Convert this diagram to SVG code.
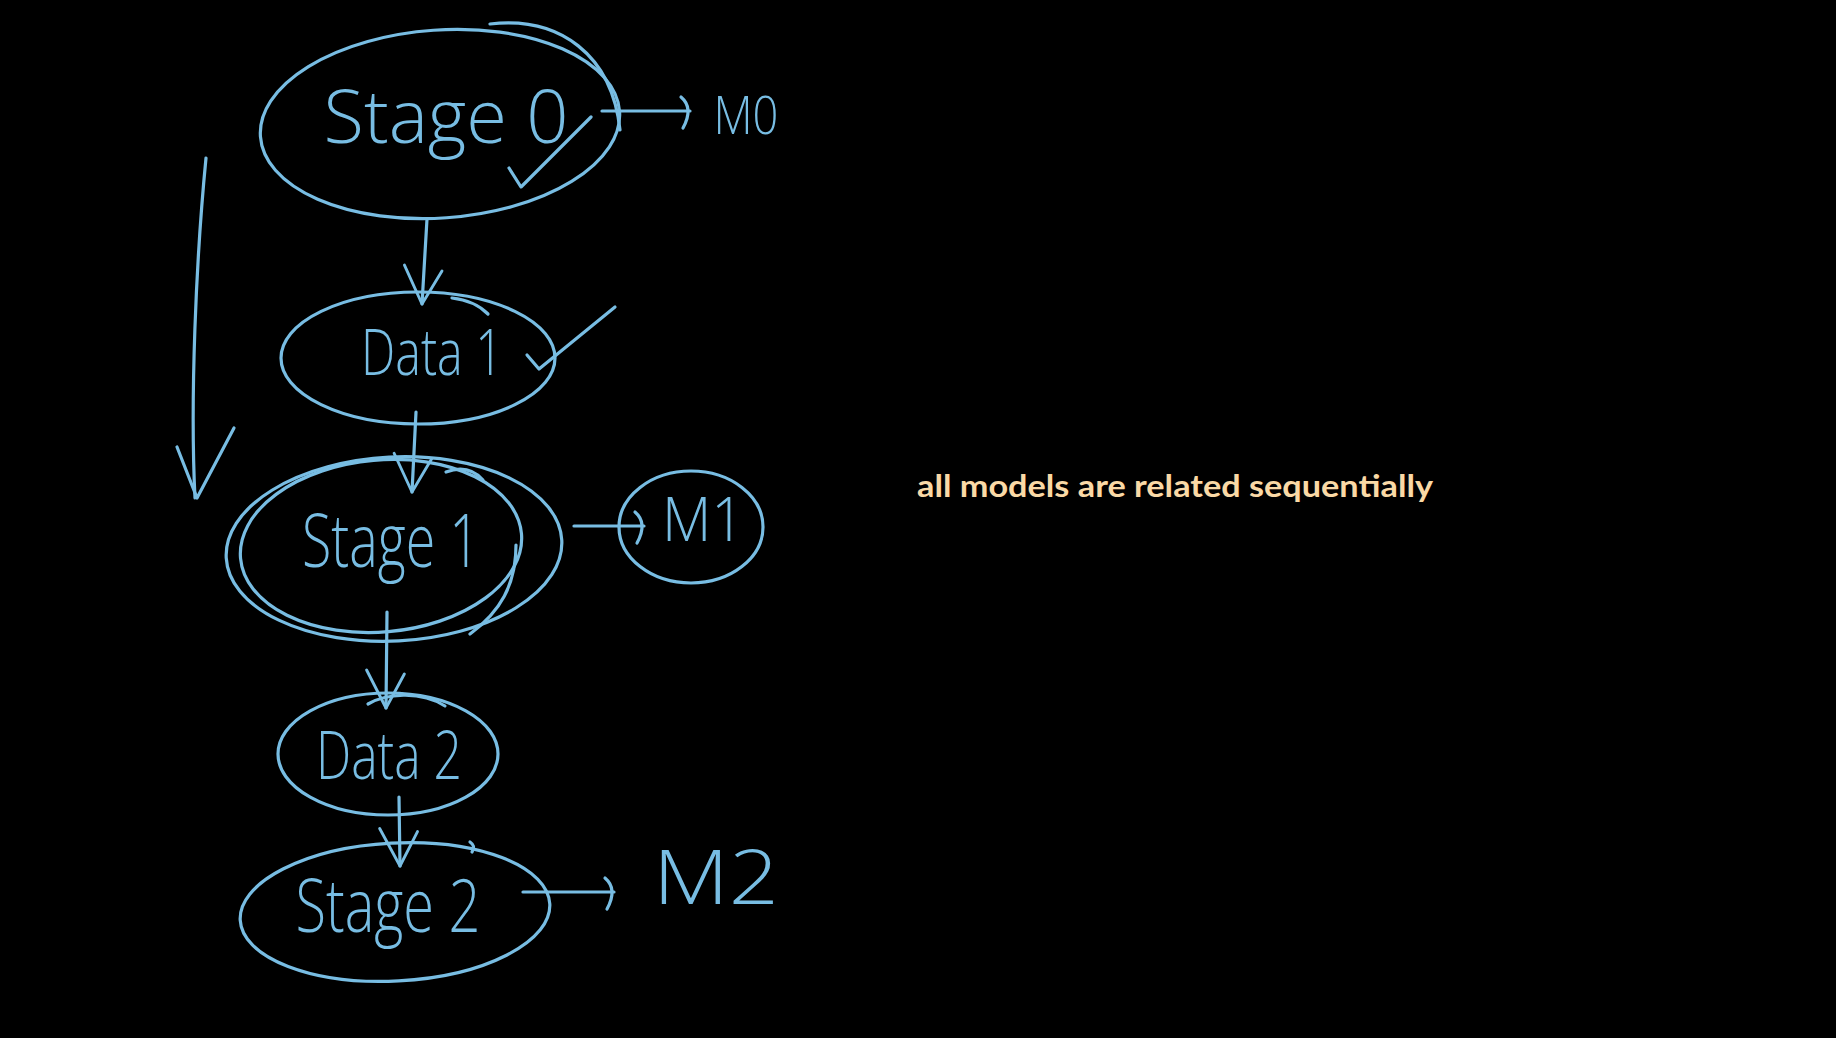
<svg xmlns="http://www.w3.org/2000/svg" width="1836" height="1038" viewBox="0 0 1836 1038">
<defs>
<style>
.ink{fill:none;stroke:#78bde3;stroke-width:3.2;stroke-linecap:round;stroke-linejoin:round}
.hand{font-family:"Open Sans","DejaVu Sans",sans-serif;font-weight:300;fill:#78bde3;text-anchor:middle}
.note{font-family:Lato,"Open Sans",sans-serif;font-weight:700;fill:#fad9a6;font-size:30px}
</style>
<marker id="vhead" markerUnits="userSpaceOnUse" markerWidth="90" markerHeight="90" refX="0" refY="0" orient="auto" viewBox="-50 -45 100 90" overflow="visible">
<path d="M-38,-20 L0,0 L-42,22" fill="none" stroke="#78bde3" stroke-width="3.2" stroke-linecap="round" stroke-linejoin="round"/>
</marker>
<marker id="chead" markerUnits="userSpaceOnUse" markerWidth="40" markerHeight="50" refX="0" refY="0" orient="auto" viewBox="-20 -25 40 50" overflow="visible">
<path d="M-9,-14 Q4,-3 -7,17" fill="none" stroke="#78bde3" stroke-width="3.2" stroke-linecap="round"/>
</marker>
</defs>
<rect x="0" y="0" width="1836" height="1038" fill="#000"/>

<g id="stage0">
<ellipse class="ink" cx="440" cy="124" rx="180" ry="94" transform="rotate(-4 440 124)"/>
<path class="ink" d="M490,24 C560,16 612,55 620,130"/>
<text class="hand" x="446" y="143" font-size="74" textLength="245" lengthAdjust="spacingAndGlyphs">Stage 0</text>
<path class="ink" d="M509,168 L521,187 L591,117"/>
</g>

<g id="m0">
<text class="hand" x="746" y="134" font-size="54" textLength="65" lengthAdjust="spacingAndGlyphs">M0</text>
</g>

<g id="data1">
<ellipse class="ink" cx="418" cy="358" rx="137" ry="66"/>
<path class="ink" d="M452,298 C470,300 480,306 488,314"/>
<text class="hand" x="432" y="375" font-size="64" textLength="142" lengthAdjust="spacingAndGlyphs">Data 1</text>
<path class="ink" d="M527,355 L539,369 L615,307"/>
</g>

<g id="stage1">
<ellipse class="ink" cx="394" cy="549" rx="168" ry="92" transform="rotate(-3 394 549)"/>
<ellipse class="ink" cx="381" cy="546" rx="141" ry="86" transform="rotate(-5 381 546)"/>
<path class="ink" d="M516,545 C516,585 500,612 470,634"/>
<path class="ink" d="M446,472 C462,466 474,470 483,480"/>
<text class="hand" x="391" y="567" font-size="74" textLength="178" lengthAdjust="spacingAndGlyphs">Stage 1</text>
</g>

<g id="m1">
<ellipse class="ink" cx="691" cy="527" rx="72" ry="56"/>
<text class="hand" x="703" y="541" font-size="60" textLength="82" lengthAdjust="spacingAndGlyphs">M1</text>
</g>

<g id="data2">
<ellipse class="ink" cx="388" cy="754" rx="110" ry="61"/>
<path class="ink" d="M368,704 C385,694 420,690 445,706"/>
<text class="hand" x="389" y="779" font-size="66" textLength="146" lengthAdjust="spacingAndGlyphs">Data 2</text>
</g>

<g id="stage2">
<ellipse class="ink" cx="395" cy="912" rx="155" ry="69" transform="rotate(-3 395 912)"/>
<path class="ink" d="M470,842 Q476,846 472,852"/>
<text class="hand" x="388" y="932" font-size="74" textLength="185" lengthAdjust="spacingAndGlyphs">Stage 2</text>
</g>

<g id="m2">
<text class="hand" x="716" y="904" font-size="76" textLength="126" lengthAdjust="spacingAndGlyphs">M2</text>
</g>

<g id="connectors">
<path class="ink" d="M602,111 L690,111" marker-end="url(#chead)"/>
<path class="ink" d="M427,219 L422,304" marker-end="url(#vhead)"/>
<path class="ink" d="M416,412 L412,492" marker-end="url(#vhead)"/>
<path class="ink" d="M574,526 L644,526" marker-end="url(#chead)"/>
<path class="ink" d="M387,612 L386,708" marker-end="url(#vhead)"/>
<path class="ink" d="M399,797 L400,866" marker-end="url(#vhead)"/>
<path class="ink" d="M523,892 L614,892" marker-end="url(#chead)"/>
<path class="ink" d="M206,158 C196,260 190,400 195,498"/>
<path class="ink" d="M177,447 L197,498 L234,428"/>
</g>

<text class="note" x="917" y="497" textLength="516" lengthAdjust="spacingAndGlyphs">all models are related sequentially</text>
</svg>
